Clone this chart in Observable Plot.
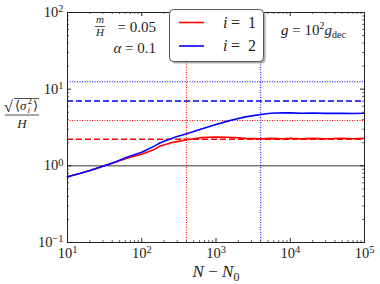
<!DOCTYPE html>
<html><head><meta charset="utf-8">
<script src="https://cdn.jsdelivr.net/npm/d3@7"></script>
<script src="https://cdn.jsdelivr.net/npm/@observablehq/plot@0.6"></script>
<style>body{margin:0;background:#fff} svg{display:block}</style>
</head><body><div id="chart"></div>
<script>
// ---- data ----
const N = [10, 15, 20, 30, 45, 63, 100, 150, 178, 250, 300, 405, 620, 1000, 1400, 1750, 2500, 4000, 5500, 8000, 10000, 14000, 20000, 30000, 50000, 70000, 100000];
const sigma1 = [0.72, 0.80, 0.87, 0.99, 1.12, 1.26, 1.42, 1.65, 1.82, 2.00, 2.07, 2.19, 2.33, 2.38, 2.36, 2.33, 2.28, 2.25, 2.28, 2.26, 2.29, 2.25, 2.28, 2.26, 2.29, 2.26, 2.28];
const sigma2 = [0.72, 0.80, 0.87, 0.99, 1.13, 1.29, 1.50, 1.82, 2.00, 2.28, 2.42, 2.62, 3.00, 3.45, 3.80, 4.03, 4.35, 4.68, 4.85, 4.92, 4.90, 4.85, 4.88, 4.83, 4.86, 4.82, 4.85];
const seriesNames = ["i = 1", "i = 2"];
const seriesColors = ["#ff0000", "#0000ff"];
const plateauLevels = [2.22, 7.0];      // dashed horizontals
const thresholdLevels = [3.9, 12.5];    // dotted horizontals
const saturationTimes = [400, 4000];    // dotted verticals
const xTicks = [10, 100, 1000, 10000, 100000];
const yTicks = [0.1, 1, 10, 100];
const minorMult = [2, 3, 4, 5, 6, 7, 8, 9];

const rows = [];
[sigma1, sigma2].forEach((s, k) => N.forEach((n, j) => rows.push({N: n, v: s[j], series: seriesNames[k]})));
const xMinor = xTicks.slice(0, -1).flatMap(d => minorMult.map(m => d * m));
const yMinor = yTicks.slice(0, -1).flatMap(d => minorMult.map(m => d * m));
const refs = seriesNames.map((s, k) => ({series: s, dash: plateauLevels[k], dot: thresholdLevels[k], t: saturationTimes[k]}));

const FONT = "Liberation Serif, DejaVu Serif, serif";
const W = 380, H = 284, mL = 67, mR = 16, mT = 12, mB = 42;
const pw = W - mL - mR, ph = H - mT - mB;
const fmt = d => "10^" + Math.round(Math.log10(d));

const chart = Plot.plot({
  width: W, height: H,
  marginLeft: mL, marginRight: mR, marginTop: mT, marginBottom: mB,
  style: {fontSize: "14px", background: "white", color: "#222"},
  x: {type: "log", domain: [10, 1e5], axis: null},
  y: {type: "log", domain: [0.1, 100], axis: null},
  color: {domain: seriesNames, range: seriesColors},
  marks: [
    Plot.ruleY([1], {stroke: "#333", strokeWidth: 1}),
    Plot.ruleY(refs, {y: "dash", stroke: "series", strokeWidth: 1.6, strokeDasharray: "6,3"}),
    Plot.ruleY(refs, {y: "dot", stroke: "series", strokeWidth: 1, strokeDasharray: "1,1.5"}),
    Plot.ruleX(refs, {x: "t", stroke: "series", strokeWidth: 1, strokeDasharray: "1,1.5"}),
    Plot.line(rows, {x: "N", y: "v", stroke: "series", strokeWidth: 1.6}),
    Plot.frame({stroke: "#222", strokeWidth: 1}),
    // inward ticks on all four sides
    Plot.tickX(xTicks, {x: d => d, insetTop: ph - 4, stroke: "#222"}),
    Plot.tickX(xMinor, {x: d => d, insetTop: ph - 2, stroke: "#222", strokeWidth: 0.7}),
    Plot.tickX(xTicks, {x: d => d, insetBottom: ph - 4, stroke: "#222"}),
    Plot.tickX(xMinor, {x: d => d, insetBottom: ph - 2, stroke: "#222", strokeWidth: 0.7}),
    Plot.tickY(yTicks, {y: d => d, insetRight: pw - 4, stroke: "#222"}),
    Plot.tickY(yMinor, {y: d => d, insetRight: pw - 2, stroke: "#222", strokeWidth: 0.7}),
    Plot.tickY(yTicks, {y: d => d, insetLeft: pw - 4, stroke: "#222"}),
    Plot.tickY(yMinor, {y: d => d, insetLeft: pw - 2, stroke: "#222", strokeWidth: 0.7}),
    Plot.axisX(xTicks, {tickSize: 0, tickPadding: 5, tickFormat: fmt, fontSize: 14.5, fontFamily: FONT}),
    Plot.axisY(yTicks, {tickSize: 0, tickPadding: 4, tickFormat: fmt, fontSize: 14.5, fontFamily: FONT})
  ]
});
document.getElementById("chart").appendChild(chart);

const svg = d3.select(chart);
// superscript exponents in tick labels
svg.selectAll("text").each(function () {
  const m = /^10\^(-?\d+)$/.exec(this.textContent);
  if (!m) return;
  const t = d3.select(this);
  t.text("");
  t.append("tspan").text("10");
  t.append("tspan").attr("dy", "-0.45em").attr("font-size", "0.72em").text(m[1].replace("-", "\u2212"));
});

const g = svg.append("g").style("font-family", FONT).attr("fill", "#222").attr("text-anchor", "start");
// legend box
g.append("rect").attr("x", 171.5).attr("y", 11.5).attr("width", 94).attr("height", 52).attr("rx", 4).attr("fill", "#777").attr("opacity", 0.6);
g.append("rect").attr("x", 169.5).attr("y", 9.5).attr("width", 94).attr("height", 52).attr("rx", 4).attr("fill", "white").attr("stroke", "#555").attr("stroke-width", 1);
seriesNames.forEach((s, k) => {
  const y = 22.5 + k * 23.5;
  g.append("line").attr("x1", 179).attr("x2", 204).attr("y1", y).attr("y2", y).attr("stroke", seriesColors[k]).attr("stroke-width", 1.6);
  const [lhs, rhs] = s.split(" = ");
  g.append("text").attr("x", 223).attr("y", y + 5).attr("font-size", 16).attr("font-style", "italic").text(lhs);
  g.append("text").attr("x", 231).attr("y", y + 5).attr("font-size", 16).text("=");
  g.append("text").attr("x", 248).attr("y", y + 5).attr("font-size", 16).text(rhs);
});

// parameter annotations
const p = g.append("g").attr("font-size", 15);
p.append("text").attr("x", 100).attr("y", 23).attr("font-size", 11).attr("font-style", "italic").attr("text-anchor", "middle").text("m");
p.append("line").attr("x1", 95).attr("x2", 105).attr("y1", 26.5).attr("y2", 26.5).attr("stroke", "#222").attr("stroke-width", 0.8);
p.append("text").attr("x", 100).attr("y", 35.5).attr("font-size", 11).attr("font-style", "italic").attr("text-anchor", "middle").text("H");
p.append("text").attr("x", 156).attr("y", 32).attr("text-anchor", "end").text("= 0.05");
const a = p.append("text").attr("x", 156).attr("y", 53).attr("text-anchor", "end");
a.append("tspan").attr("font-style", "italic").text("\u03b1");
a.append("tspan").text(" = 0.1");
const gt = p.append("text").attr("x", 281).attr("y", 35);
gt.append("tspan").attr("font-style", "italic").text("g");
gt.append("tspan").text(" = 10");
gt.append("tspan").attr("dy", -6).attr("font-size", 10).text("2");
gt.append("tspan").attr("dy", 6).attr("font-style", "italic").text("g");
gt.append("tspan").attr("dy", 3).attr("font-size", 10).text("dec");

// y label: sqrt(<sigma_i^2>) / H
const yl = g.append("g").attr("font-size", 13);
yl.append("text").attr("x", 4).attr("y", 112).attr("font-size", 16).text("\u221a");
yl.append("line").attr("x1", 14).attr("x2", 39).attr("y1", 98.5).attr("y2", 98.5).attr("stroke", "#222").attr("stroke-width", 0.8);
yl.append("text").attr("x", 15).attr("y", 110).text("\u27e8");
yl.append("text").attr("x", 20).attr("y", 110).attr("font-style", "italic").text("\u03c3");
yl.append("text").attr("x", 27.5).attr("y", 104).attr("font-size", 9).text("2");
yl.append("text").attr("x", 27.5).attr("y", 113).attr("font-size", 9).attr("font-style", "italic").text("i");
yl.append("text").attr("x", 33).attr("y", 110).text("\u27e9");
yl.append("line").attr("x1", 5).attr("x2", 39).attr("y1", 115).attr("y2", 115).attr("stroke", "#222").attr("stroke-width", 0.8);
yl.append("text").attr("x", 22).attr("y", 128).attr("text-anchor", "middle").attr("font-style", "italic").text("H");

// x label
const xl = g.append("text").attr("x", 216).attr("y", 277).attr("text-anchor", "middle").attr("font-size", 17);
xl.append("tspan").attr("font-style", "italic").text("N");
xl.append("tspan").text(" \u2212 ");
xl.append("tspan").attr("font-style", "italic").text("N");
xl.append("tspan").attr("dy", 4).attr("font-size", 12).text("0");
</script>
</body></html>
